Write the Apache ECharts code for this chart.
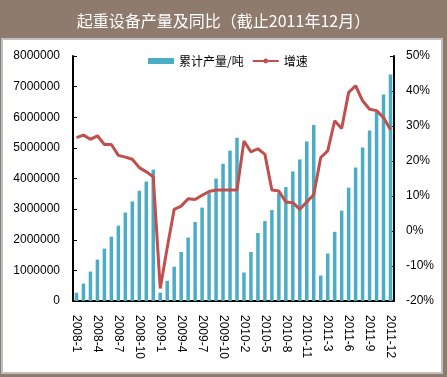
<!DOCTYPE html>
<html>
<head>
<meta charset="utf-8">
<script src="https://cdn.jsdelivr.net/npm/echarts@6/dist/echarts.min.js"></script>
<style>
  html, body { margin: 0; padding: 0; background: #8f7b6d; }
  #chart { width: 447px; height: 377px; }
</style>
</head>
<body>
<div id="chart"></div>
<script>
// months (Jan 2010 and Jan 2011 are merged into Feb)
const months = [
  '2008-1', '2008-2', '2008-3', '2008-4', '2008-5', '2008-6', '2008-7', '2008-8', '2008-9', '2008-10', '2008-11', '2008-12',
  '2009-1', '2009-2', '2009-3', '2009-4', '2009-5', '2009-6', '2009-7', '2009-8', '2009-9', '2009-10', '2009-11', '2009-12',
  '2010-2', '2010-3', '2010-4', '2010-5', '2010-6', '2010-7', '2010-8', '2010-9', '2010-10', '2010-11', '2010-12',
  '2011-2', '2011-3', '2011-4', '2011-5', '2011-6', '2011-7', '2011-8', '2011-9', '2011-10', '2011-11', '2011-12'
];

// cumulative output, tons
const output = [
  270000, 570000, 960000, 1350000, 1710000, 2100000, 2460000, 2890000, 3250000, 3600000, 3900000, 4290000,
  270000, 660000, 1120000, 1600000, 2070000, 2580000, 3050000, 3520000, 4000000, 4480000, 4910000, 5330000,
  930000, 1600000, 2220000, 2610000, 2970000, 3520000, 3720000, 4230000, 4620000, 5210000, 5750000,
  830000, 1550000, 2260000, 2950000, 3700000, 4360000, 5010000, 5570000, 6190000, 6740000, 7400000
];

// year-on-year growth, %
const growth = [
  26.7, 27.4, 26.2, 27.2, 24.7, 24.7, 21.6, 21.1, 20.5, 18.1, 16.9, 15.5,
  -16.4, -4.8, 6.2, 7.1, 9.2, 9.0, 10.2, 11.3, 11.7, 11.7, 11.7, 11.7,
  25.7, 22.6, 23.5, 21.9, 11.7, 11.4, 8.3, 8.1, 6.2, 8.3, 10.4,
  21.0, 22.9, 31.5, 29.3, 39.6, 41.5, 37.2, 34.8, 34.4, 32.4, 28.9
];

const chart = echarts.init(document.getElementById('chart'));
const labelFont = { fontFamily: 'Liberation Sans', fontSize: 12, color: '#000' };

chart.setOption({
  backgroundColor: '#8f7b6d',
  animation: false,
  title: {
    text: '起重设备产量及同比（截止2011年12月）',
    left: 'center',
    top: 8,
    textStyle: { color: '#fff', fontSize: 16, fontWeight: 'normal', fontFamily: 'Noto Sans CJK SC' }
  },
  graphic: [
    {
      type: 'rect',
      z: -10,
      shape: { x: 2, y: 39, width: 440, height: 334 },
      style: { fill: '#fff', stroke: '#c0c0c0', lineWidth: 2 }
    }
  ],
  legend: {
    top: 50,
    left: 143,
    itemWidth: 26,
    itemHeight: 6,
    itemGap: 8,
    textStyle: { fontFamily: 'Noto Sans CJK SC', fontSize: 12, color: '#000' },
    data: [
      { name: '累计产量/吨', icon: 'rect' },
      { name: '增速' }
    ]
  },
  grid: { left: 73, right: 53, top: 56, bottom: 76 },
  xAxis: {
    type: 'category',
    data: months,
    axisLine: { lineStyle: { color: '#000', width: 2 } },
    axisTick: { inside: true, length: 4, lineStyle: { color: '#000' } },
    axisLabel: Object.assign({ interval: 2, rotate: -90, margin: 14 }, labelFont)
  },
  yAxis: [
    {
      type: 'value',
      min: 0,
      max: 8000000,
      interval: 1000000,
      splitLine: { show: false },
      axisLine: { show: true, lineStyle: { color: '#000', width: 2 } },
      axisTick: { show: true, inside: true, length: 4, lineStyle: { color: '#000' } },
      axisLabel: Object.assign({ margin: 13, formatter: v => String(v) }, labelFont)
    },
    {
      type: 'value',
      min: -20,
      max: 50,
      interval: 10,
      splitLine: { show: false },
      axisLine: { show: true, lineStyle: { color: '#000', width: 2 } },
      axisTick: { show: true, inside: true, length: 4, lineStyle: { color: '#000' } },
      axisLabel: Object.assign({ margin: 12, formatter: '{value}%' }, labelFont)
    }
  ],
  series: [
    {
      name: '累计产量/吨',
      type: 'bar',
      data: output,
      barWidth: 3.5,
      itemStyle: { color: '#4bacc6' }
    },
    {
      name: '增速',
      type: 'line',
      yAxisIndex: 1,
      data: growth,
      showSymbol: false,
      symbol: 'none',
      lineStyle: { color: '#c0504d', width: 3 },
      itemStyle: { color: '#c0504d' }
    }
  ]
});
</script>
</body>
</html>
